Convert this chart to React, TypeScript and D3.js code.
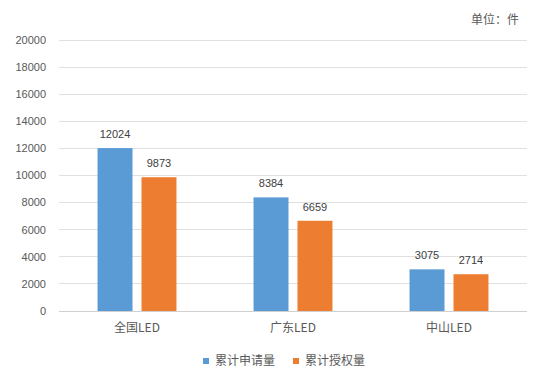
import React from "react";
import * as d3 from "d3";

const categories = ["全国LED", "广东LED", "中山LED"];
const seriesNames = ["累计申请量", "累计授权量"];
const applied = [12024, 8384, 3075];
const granted = [9873, 6659, 2714];
const yTicks = [0, 2000, 4000, 6000, 8000, 10000, 12000, 14000, 16000, 18000, 20000];
const colors = ["#5b9bd5", "#ed7d31"];

const W = 545, H = 378;
const left = 59, right = 527, top = 40, bottom = 311;
const cjk = "'Microsoft YaHei','Noto Sans CJK SC',sans-serif";
const num = "'Liberation Sans', Arial, sans-serif";

export default function App() {
  const x0 = d3.scaleBand<string>().domain(categories).range([left, right]).paddingInner(0.494).paddingOuter(0.247);
  const x1 = d3.scaleBand<string>().domain(seriesNames).range([0, x0.bandwidth()]).paddingInner(0.2045);
  const y = d3.scaleLinear().domain([0, 20000]).range([bottom, top]);
  const series = [applied, granted];
  return (
    <svg width={W} height={H} style={{ position: "absolute", left: 0, top: 0, background: "#fff" }}>
      <rect width={W} height={H} fill="#fff" />
      {yTicks.map((t) => (
        <g key={t}>
          <line x1={left} x2={right} y1={y(t)} y2={y(t)} stroke={t === 0 ? "#d0d0d0" : "#e0e0e0"} strokeWidth={1} shapeRendering="crispEdges" />
          <text x={46} y={y(t)} dy="0.35em" textAnchor="end" fontSize={11} fontFamily={num} fill="#595959">{t}</text>
        </g>
      ))}
      {categories.map((c, i) => (
        <g key={c}>
          {series.map((s, j) => {
            const bx = (x0(c) as number) + (x1(seriesNames[j]) as number);
            const bw = x1.bandwidth();
            return (
              <g key={j}>
                <rect x={bx} y={y(s[i])} width={bw} height={y(0) - y(s[i])} fill={colors[j]} />
                <text x={bx + bw / 2} y={y(s[i]) - 14} dy="0.35em" textAnchor="middle" fontSize={11} fontFamily={num} fill="#404040">{s[i]}</text>
              </g>
            );
          })}
          <text x={(x0(c) as number) + x0.bandwidth() / 2} y={328} dy="0.35em" textAnchor="middle" fontSize={12} fontFamily={cjk} fill="#595959">{c}</text>
        </g>
      ))}
      <text x={519} y={20} dy="0.35em" textAnchor="end" fontSize={12} fontFamily={cjk} fill="#595959">单位：件</text>
      {seriesNames.map((n, j) => (
        <g key={n} transform={`translate(${203 + j * 90},361)`}>
          <rect x={0} y={-3} width={6} height={6} fill={colors[j]} />
          <text x={12} y={0} dy="0.35em" fontSize={12} fontFamily={cjk} fill="#595959">{n}</text>
        </g>
      ))}
    </svg>
  );
}
